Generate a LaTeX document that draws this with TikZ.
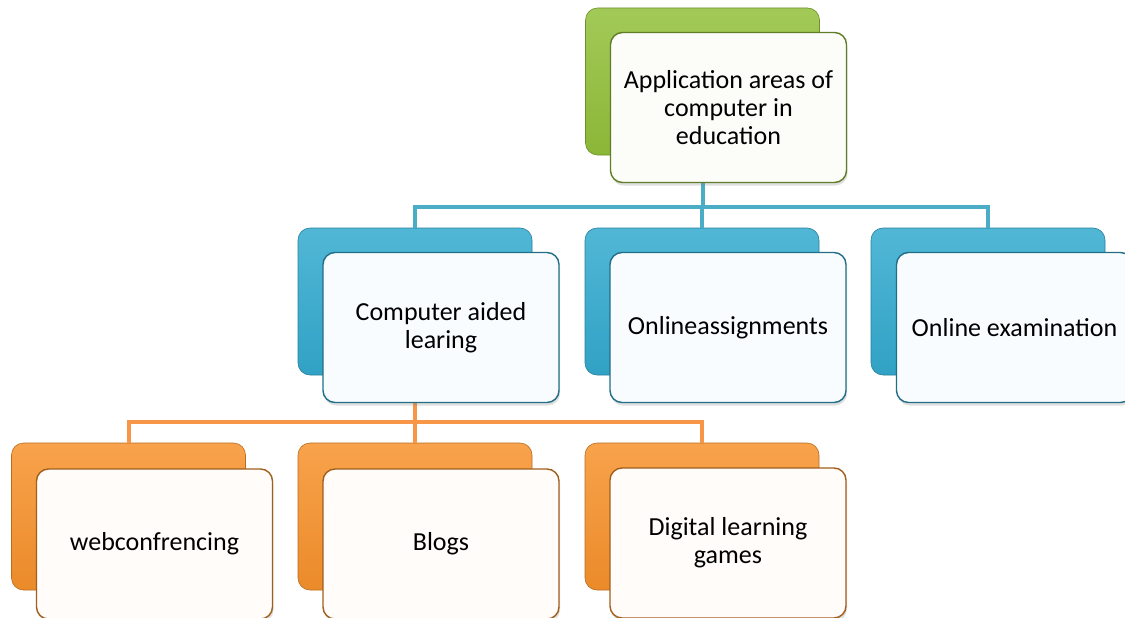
\documentclass[tikz,border=0pt]{standalone}
\usepackage{fontspec}
\setmainfont{Carlito}
\usetikzlibrary{shadows}
\definecolor{grn}{HTML}{92C03A}
\definecolor{blu}{HTML}{33AACF}
\definecolor{org}{HTML}{F7922C}
\definecolor{bline}{HTML}{4BACC6}
\definecolor{oline}{HTML}{F79646}
\tikzset{
  backbox/.style={rounded corners=12, minimum width=234, minimum height=147,
    draw=#1!75!black, line width=0.6, top color=#1!85!white, bottom color=#1!95!black},
  frontbox/.style={rounded corners=12, minimum width=236, minimum height=150,
    draw=#1!65!black, line width=1.4, fill=#1!3!white, align=center,
    font=\fontsize{26}{28}\selectfont, text=black,
    drop shadow={opacity=0.25, shadow xshift=1pt, shadow yshift=-3pt}},
  conn/.style={line width=4, draw=#1},
}
\begin{document}
\begin{tikzpicture}[x=1pt,y=-1pt]
\useasboundingbox (0,0) rectangle (1125,618);
\clip (0,0) rectangle (1125,618);
% bus coordinates
\coordinate (bus1) at (702.5,207);
\coordinate (bus2) at (415,422);
% back boxes
\node[backbox=grn] (topB) at (702.5,81.5) {};
\node[backbox=blu] (calB) at (415,301.5) {};
\node[backbox=blu] (oaB) at (702,301.5) {};
\node[backbox=blu] (oeB) at (988,301.5) {};
\node[backbox=org] (wcB) at (128.5,516.5) {};
\node[backbox=org] (blB) at (415,516.5) {};
\node[backbox=org] (dgB) at (702,516.5) {};
% connectors
\draw[conn=bline] (topB.south) -- (bus1) -| (calB.north);
\draw[conn=bline] (bus1) -| (oaB.north);
\draw[conn=bline] (bus1) -| (oeB.north);
\draw[conn=oline] (calB.south) -- (bus2) -| (wcB.north);
\draw[conn=oline] (bus2) -| (blB.north);
\draw[conn=oline] (bus2) -| (dgB.north);
% front boxes
\node[frontbox=grn] (top) at (728.5,107.5) {Application areas of\\computer in\\education};
\node[frontbox=blu] (cal) at (441,327.5) {Computer aided\\learing};
\node[frontbox=blu] (oa) at (728,327.5) {Onlineassignments};
\node[frontbox=blu] (oe) at (1014.5,327.5) {Online examination};
\node[frontbox=org] (wc) at (154.5,544) {webconfrencing};
\node[frontbox=org] (bl) at (441,544) {Blogs};
\node[frontbox=org] (dg) at (728,543) {Digital learning\\games};
\end{tikzpicture}
\end{document}
